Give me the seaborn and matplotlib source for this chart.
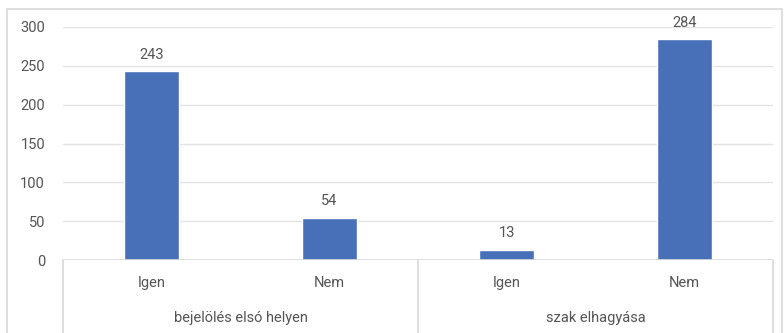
import matplotlib
matplotlib.use("Agg")
import matplotlib.pyplot as plt
import seaborn as sns
import pandas as pd
from matplotlib.lines import Line2D
from matplotlib.patches import Rectangle

# Survey answers grouped by question
groups = ["bejelölés elsó helyen", "bejelölés elsó helyen", "szak elhagyása", "szak elhagyása"]
answers = ["Igen", "Nem", "Igen", "Nem"]
values = [243, 54, 13, 284]
yticks = [0, 50, 100, 150, 200, 250, 300]

df = pd.DataFrame({"group": groups, "answer": answers, "value": values})
df["key"] = df["group"] + "|" + df["answer"]

sns.set_theme(style="white")
plt.rcParams["font.family"] = ["Roboto", "DejaVu Sans"]

W, H = 784, 333
fig = plt.figure(figsize=(W / 100, H / 100), dpi=100)
fig.patch.set_facecolor("white")

left_px, right_px, top_px, base_px = 63, 773, 27, 260
ax = fig.add_axes([left_px / W, 1 - base_px / H, (right_px - left_px) / W, (base_px - top_px) / H])

text_color = "#555555"
grid_color = "#e3e3e3"
line_color = "#d9d9d9"

sns.barplot(data=df, x="key", y="value", color="#4870B8", saturation=1,
            width=0.31, ax=ax, zorder=3)

ax.set_ylim(0, 300)
ax.set_xlim(-0.5, len(values) - 0.5)
ax.set_yticks(yticks)
ax.set_yticklabels([str(t) for t in yticks], color=text_color, fontsize=10.5)
ax.tick_params(axis="y", length=0, pad=13)
ax.set_xticks([])
ax.set_xlabel("")
ax.set_ylabel("")
for s in ax.spines.values():
    s.set_visible(False)
for t in yticks[1:]:
    ax.axhline(t, color=grid_color, lw=1, zorder=1)
ax.axhline(0, color=line_color, lw=1.2, zorder=4)

# value labels above the bars
for i, v in enumerate(values):
    ax.annotate(str(v), (i, v), xytext=(0, 7), textcoords="offset points",
                ha="center", va="bottom", color=text_color, fontsize=10.5)

# two-level category axis
trans = ax.get_xaxis_transform()
for i, a in enumerate(answers):
    ax.text(i, -(283 - base_px) / (base_px - top_px), a, transform=trans,
            ha="center", va="center", color=text_color, fontsize=10.5)

group_names = list(dict.fromkeys(groups))
for gname in group_names:
    idx = [i for i, g in enumerate(groups) if g == gname]
    center = (idx[0] + idx[-1]) / 2
    ax.text(center, -(318 - base_px) / (base_px - top_px), gname, transform=trans,
            ha="center", va="center", color=text_color, fontsize=10.5)

# separators between category groups
bounds = [-0.5]
for i in range(1, len(groups)):
    if groups[i] != groups[i - 1]:
        bounds.append(i - 0.5)
bounds.append(len(groups) - 0.5)
for b in bounds:
    ax.add_line(Line2D([b, b], [0, -(H - base_px) / (base_px - top_px)], transform=trans,
                       color=line_color, lw=1.2, clip_on=False, zorder=4))

# chart frame
fig.patches.append(Rectangle((7 / W, -0.05), (782 - 7) / W, 1.05 - 9 / H,
                             transform=fig.transFigure, fill=False,
                             edgecolor="#d9d9d9", lw=1.2))

fig.savefig("out.png", dpi=100, facecolor="white")
